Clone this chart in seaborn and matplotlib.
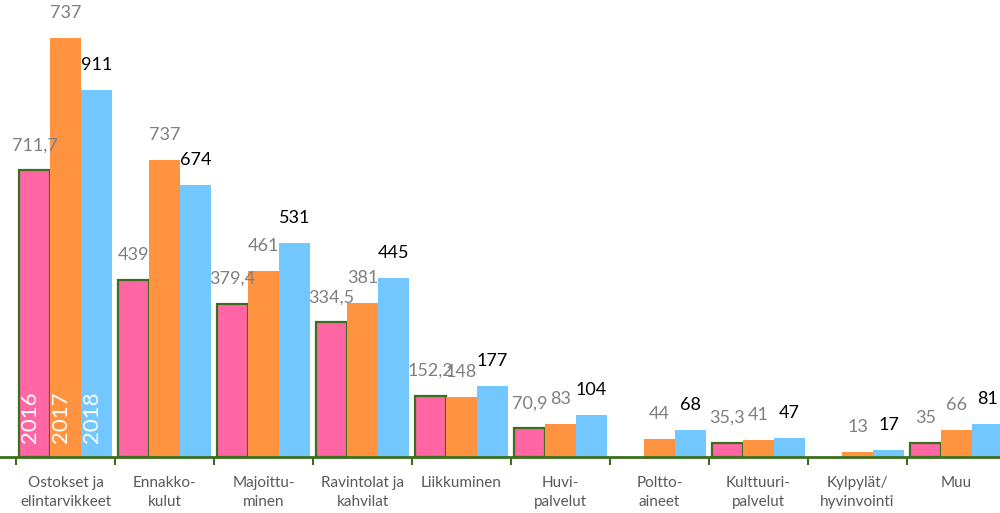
import pandas as pd
import numpy as np
import seaborn as sns
import matplotlib.pyplot as plt
from matplotlib.ticker import FixedLocator

# data
categories = [
    "Ostokset ja\nelintarvikkeet", "Ennakko-\nkulut", "Majoittu-\nminen",
    "Ravintolat ja\nkahvilat", "Liikkuminen", "Huvi-\npalvelut",
    "Poltto-\naineet", "Kulttuuri-\npalvelut", "Kylpylät/\nhyvinvointi", "Muu",
]
years = ["2016", "2017", "2018"]
v2016 = [711.7, 439, 379.4, 334.5, 152.2, 70.9, np.nan, 35.3, np.nan, 35]
v2017 = [1040, 737, 461, 381, 148, 83, 44, 41, 13, 66]
v2018 = [911, 674, 531, 445, 177, 104, 68, 47, 17, 81]
# the printed labels (first 2017 label in the original says 737)
l2016 = ["711,7", "439", "379,4", "334,5", "152,2", "70,9", "", "35,3", "", "35"]
l2017 = ["737", "737", "461", "381", "148", "83", "44", "41", "13", "66"]
l2018 = ["911", "674", "531", "445", "177", "104", "68", "47", "17", "81"]

colors = ["#FF66A3", "#FF9340", "#73C7FF"]
label_colors = ["#7F7F7F", "#7F7F7F", "#000000"]
green = "#3B6E1E"

df = pd.DataFrame({
    "kategoria": categories * 3,
    "vuosi": np.repeat(years, len(categories)),
    "arvo": v2016 + v2017 + v2018,
}).dropna()

sns.set_style("white")
plt.rcParams["font.family"] = ["Lato", "DejaVu Sans"]

fig = plt.figure(figsize=(10, 5.13), dpi=100)
ax = fig.add_axes([0, 56 / 513, 1, 457 / 513])

sns.barplot(data=df, x="kategoria", y="arvo", hue="vuosi", order=categories,
            hue_order=years, palette=colors, width=0.94, saturation=1,
            legend=False, ax=ax)

labels = [l2016, l2017, l2018]
for i, cont in enumerate(ax.containers):
    for bar in cont:
        xc = bar.get_x() + bar.get_width() / 2
        h = bar.get_height()
        cat = int(round(xc))
        bar.set_linewidth(0)
        if i == 0:
            bar.set_edgecolor(green)
            bar.set_linewidth(1.6)
        ax.annotate(labels[i][cat], (xc, h), xytext=(0, 18),
                    textcoords="offset points", ha="center", va="center",
                    fontsize=13, color=label_colors[i])
        if cat == 0:
            ax.text(xc - 0.045, 14 / 0.403, years[i], rotation=90,
                    ha="center", va="bottom", fontsize=16, color="white")

ax.set_ylim(0, 457 / 0.403)
ax.set_xlim(-0.5 - 16 / 99, -0.5 + 984 / 99)
ax.set_xlabel("")
ax.set_ylabel("")
ax.set_yticks([])

for s in ["top", "right", "left"]:
    ax.spines[s].set_visible(False)
ax.spines["bottom"].set_color(green)
ax.spines["bottom"].set_linewidth(2)

ax.xaxis.set_minor_locator(FixedLocator(np.arange(-0.5, 10, 1)))
ax.tick_params(axis="x", which="major", length=0, pad=14,
               labelsize=11, labelcolor="#595959")
ax.tick_params(axis="x", which="minor", bottom=True, length=6, width=1.5,
               color=green, direction="out")
for t in ax.get_xticklabels():
    t.set_verticalalignment("top")
    t.set_linespacing(1.4)

fig.savefig("out.png", dpi=100)
